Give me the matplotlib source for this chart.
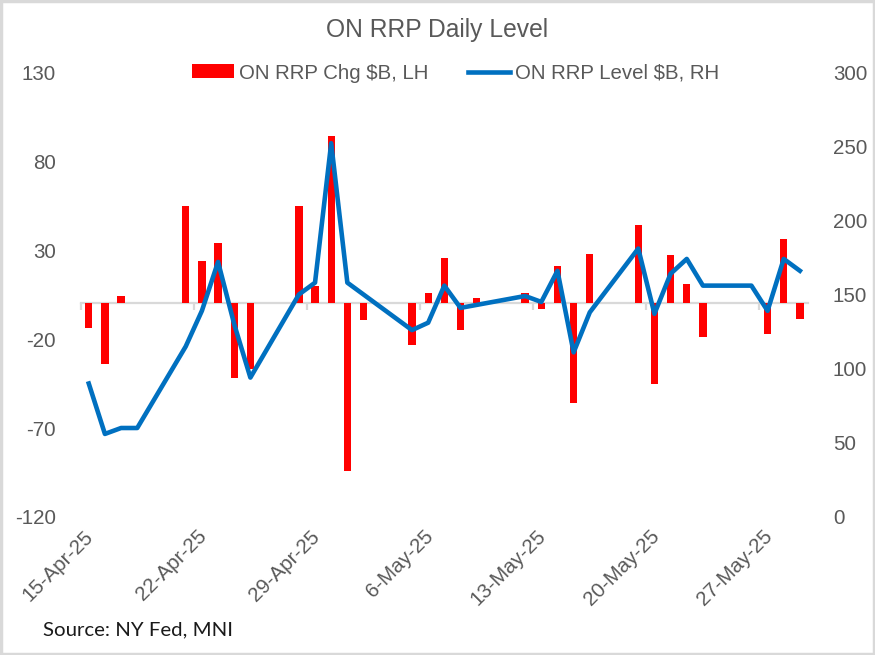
import numpy as np
import pandas as pd
import matplotlib
matplotlib.use("Agg")
import matplotlib.pyplot as plt
import matplotlib.dates as mdates
from matplotlib.patches import Patch, Rectangle
from matplotlib.lines import Line2D

# ON RRP operations (business days incl. the two holiday points with no change)
dates = ["2025-04-15", "2025-04-16", "2025-04-17", "2025-04-18", "2025-04-21",
         "2025-04-22", "2025-04-23", "2025-04-24", "2025-04-25", "2025-04-28",
         "2025-04-29", "2025-04-30", "2025-05-01", "2025-05-02", "2025-05-05",
         "2025-05-06", "2025-05-07", "2025-05-08", "2025-05-09", "2025-05-12",
         "2025-05-13", "2025-05-14", "2025-05-15", "2025-05-16", "2025-05-19",
         "2025-05-20", "2025-05-21", "2025-05-22", "2025-05-23", "2025-05-26",
         "2025-05-27", "2025-05-28", "2025-05-29"]

# daily change, $B (left axis)
chg = [-14, -34, 4, 0, 55,
       24, 34, -42, -37, 55,
       10, 94, -94, -9.5, -23.5,
       5.7, 25.7, -15, 3, 5.7,
       -3.3, 21, -56, 27.6, 44,
       -45, 27, 11, -18.6, 0,
       -17, 36, -8.5]

# level, $B (right axis)
level = [90, 56, 60, 60, 115,
         139, 172, 130, 94, 150,
         158, 252, 158, 150, 126,
         131, 156, 141, 143, 149,
         145, 166, 111, 138, 181,
         137, 164, 174, 156, 156,
         139, 174, 166]

tick_dates = ["2025-04-15", "2025-04-22", "2025-04-29", "2025-05-06",
              "2025-05-13", "2025-05-20", "2025-05-27"]

x = mdates.date2num(pd.to_datetime(dates))
xt = mdates.date2num(pd.to_datetime(tick_dates))
tick_labels = [f"{d.day}-{d.strftime('%b-%y')}" for d in pd.to_datetime(tick_dates)]

grey = "#595959"
plt.rcParams["font.family"] = ["Liberation Sans", "DejaVu Sans"]
plt.rcParams["axes.unicode_minus"] = False

fig = plt.figure(figsize=(8.75, 6.55), dpi=100)
ax = fig.add_axes([0.0922, 0.2107, 0.8312, 0.6793])

ax.bar(x, chg, width=0.45, color="#FF0000", zorder=2)
ax.set_xlim(x[0] - 0.5, x[-1] + 0.5)
ax.set_ylim(-120, 130)
ax.set_yticks(np.arange(-120, 131, 50))
for s in ["top", "left", "right"]:
    ax.spines[s].set_visible(False)
ax.spines["bottom"].set_position(("data", 0))
ax.spines["bottom"].set_color("#d9d9d9")
ax.spines["bottom"].set_linewidth(1.6)
ax.spines["bottom"].set_zorder(1)
ax.set_xticks(xt - 0.5)
ax.tick_params(axis="x", length=5, width=1.6, color="#d9d9d9", labelbottom=False)
ax.tick_params(axis="y", length=0, pad=18, labelsize=14.8, labelcolor=grey)

sec = ax.secondary_xaxis("bottom")
sec.set_xticks(xt - 0.3, tick_labels)
sec.spines["bottom"].set_visible(False)
sec.tick_params(axis="x", length=0, pad=7, labelsize=14.8, labelcolor=grey)
for lab in sec.get_xticklabels():
    lab.set_rotation(45)
    lab.set_ha("right")
    lab.set_va("top")
    lab.set_rotation_mode("anchor")

ax2 = ax.twinx()
ax2.plot(x, level, color="#0070C0", linewidth=3.3, solid_joinstyle="round", zorder=3)
ax2.set_ylim(0, 300)
ax2.set_yticks(np.arange(0, 301, 50))
for s in ax2.spines.values():
    s.set_visible(False)
ax2.tick_params(axis="y", length=0, pad=18, labelsize=14.8, labelcolor=grey)

fig.text(0.5, 0.954, "ON RRP Daily Level", ha="center", va="center",
         fontsize=17.7, color=grey)

handles = [Patch(facecolor="#FF0000", edgecolor="none"),
           Line2D([0], [0], color="#0070C0", linewidth=3.3)]
fig.legend(handles, ["ON RRP Chg $B, LH", "ON RRP Level $B, RH"],
           loc="center", bbox_to_anchor=(0.521, 0.8885), ncol=2, frameon=False,
           fontsize=14.7, labelcolor=grey, handlelength=2.05, handleheight=0.66,
           handletextpad=0.25, columnspacing=1.95)

fig.text(0.049, 0.03, "Source: NY Fed, MNI", ha="left", va="baseline",
         fontsize=14.7, color="#1a1a1a", family=["Lato", "DejaVu Sans"])

fig.patches.append(Rectangle((0.0015, 0.002), 0.997, 0.996, transform=fig.transFigure,
                             fill=False, edgecolor="#d9d9d9", linewidth=2.5))

fig.savefig("out.png", dpi=100)
